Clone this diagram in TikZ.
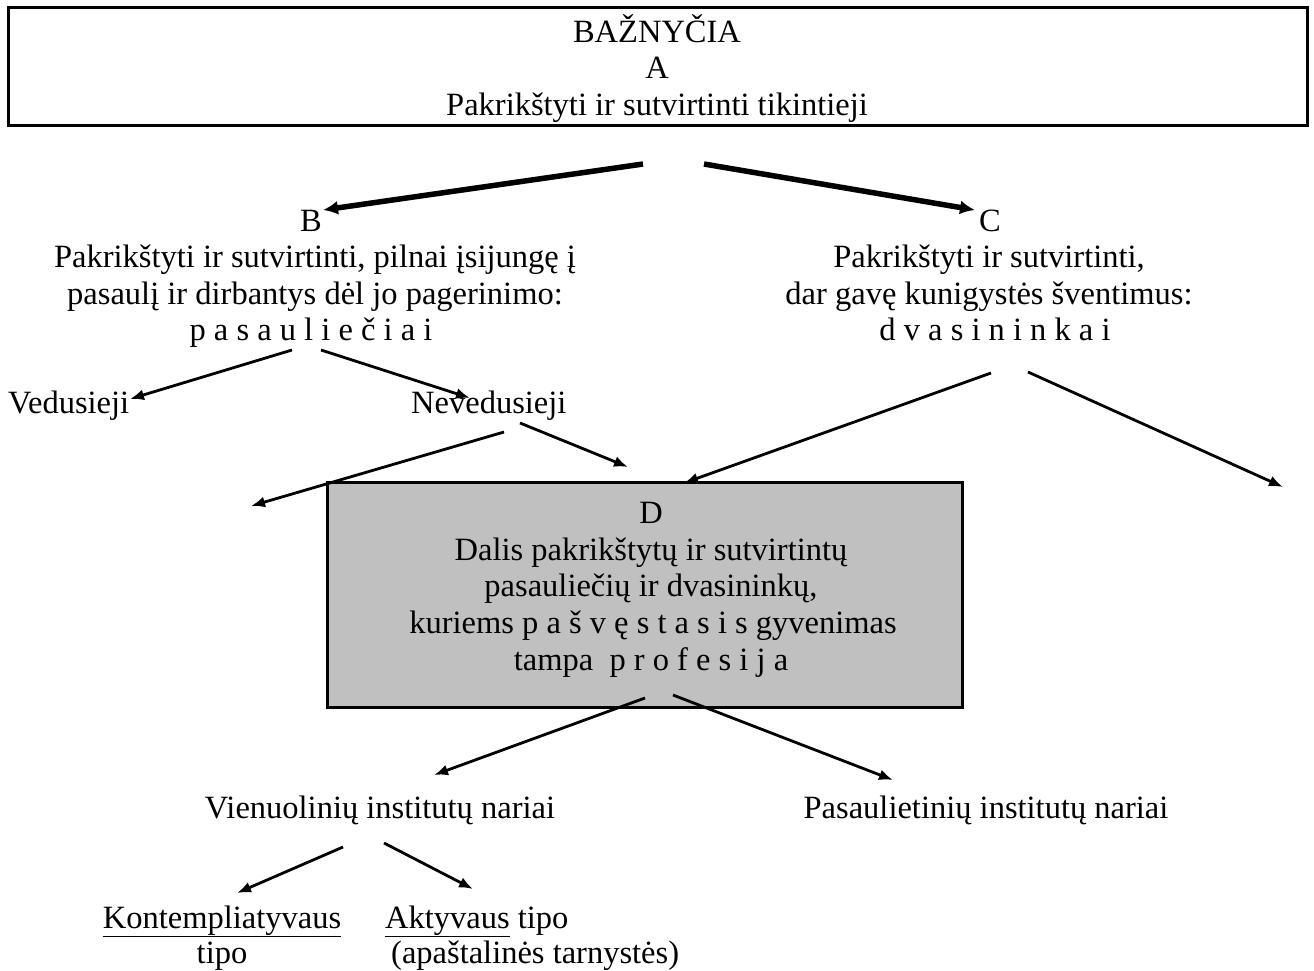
\documentclass[tikz,border=0pt]{standalone}
\usepackage{fontspec}
\setmainfont{Liberation Serif}
\usetikzlibrary{arrows.meta}
\definecolor{boxgray}{RGB}{192,192,192}
\begin{document}
\begin{tikzpicture}[x=1pt,y=-1pt,
  txt/.style={font=\fontsize{32.5}{37}\selectfont, inner sep=0pt, anchor=base},
  txtw/.style={txt, anchor=base west},
  arr/.style={line width=2.8pt, -{Latex[length=14pt,width=11pt]}},
  thickarr/.style={line width=5.5pt, -{Latex[length=15pt,width=14pt]}},
  frame/.style={draw=black, line width=3pt, inner sep=0pt}
  ]
\useasboundingbox (0,0) rectangle (1314,970);
% top box A
\node[frame, minimum width=1299pt, minimum height=118pt] (Abox) at (657.5,66) {};
\node[txt] (A1) at (657,42) {BAŽNYČIA};
\node[txt] (A2) at (657,78) {A};
\node[txt] (A3) at (657,115) {Pakrikštyti ir sutvirtinti tikintieji};
% B block
\node[txt] (B0) at (311,231) {B};
\node[txt] (B1) at (315,267) {Pakrikštyti ir sutvirtinti, pilnai įsijungę į};
\node[txt] (B2) at (315,304) {pasaulį ir dirbantys dėl jo pagerinimo:};
\node[txt] (B3) at (311,340) {p a s a u l i e č i a i};
% C block
\node[txt] (C0) at (990,231) {C};
\node[txt] (C1) at (989,267) {Pakrikštyti ir sutvirtinti,};
\node[txt] (C2) at (989,304) {dar gavę kunigystės šventimus:};
\node[txt] (C3) at (995,340) {d v a s i n i n k a i};
% Vedusieji / Nevedusieji
\node[txtw] (Ved) at (8,413) {Vedusieji};
\node[txtw] (Nev) at (411,413) {Nevedusieji};
% D box
\node[frame, fill=boxgray, minimum width=635pt, minimum height=225pt] (Dbox) at (644.5,594.5) {};
\node[txt] (D0) at (651,523) {D};
\node[txt] (D1) at (651,560) {Dalis pakrikštytų ir sutvirtintų};
\node[txt] (D2) at (651,596) {pasauliečių ir dvasininkų,};
\node[txt] (D3) at (653,633) {kuriems p a š v ę s t a s i s gyvenimas};
\node[txt] (D4) at (651,670) {tampa\ \ p r o f e s i j a};
% bottom
\node[txt] (Vien) at (380,818) {Vienuolinių institutų nariai};
\node[txt] (Pas) at (986,818) {Pasaulietinių institutų nariai};
\node[txt] (K1) at (222,928) {\underline{Kontempliatyvaus}};
\node[txt] (K2) at (222,963) {tipo};
\node[txtw] (Ak1) at (385,928) {\underline{Aktyvaus} tipo};
\node[txtw] (Ak2) at (391,963) {(apaštalinės tarnystės)};
% arrow end points
\coordinate (pA1) at (643,164); \coordinate (pB) at (323,210);
\coordinate (pA2) at (704,164); \coordinate (pC) at (975,210);
\coordinate (b1) at (292,350); \coordinate (eVed) at (130,399);
\coordinate (b2) at (321,350); \coordinate (eNev) at (470,398);
\coordinate (n1) at (504,432); \coordinate (eL) at (251,506);
\coordinate (n2) at (520,423); \coordinate (eDl) at (628,467);
\coordinate (c1) at (991,373); \coordinate (eDc) at (684,483);
\coordinate (c2) at (1028,372); \coordinate (eR) at (1283,487);
\coordinate (d1) at (645,698); \coordinate (eVien) at (434,775);
\coordinate (d2) at (673,695); \coordinate (ePas) at (893,780);
\coordinate (v1) at (343,847); \coordinate (eK) at (237,893);
\coordinate (v2) at (384,843); \coordinate (eAk) at (473,889);
% arrows
\draw[thickarr] (pA1) -- (pB);
\draw[thickarr] (pA2) -- (pC);
\draw[arr] (b1) -- (eVed);
\draw[arr] (b2) -- (eNev);
\draw[arr] (n1) -- (eL);
\draw[arr] (n2) -- (eDl);
\draw[arr] (c1) -- (eDc);
\draw[arr] (c2) -- (eR);
\draw[arr] (d1) -- (eVien);
\draw[arr] (d2) -- (ePas);
\draw[arr] (v1) -- (eK);
\draw[arr] (v2) -- (eAk);
\end{tikzpicture}
\end{document}
